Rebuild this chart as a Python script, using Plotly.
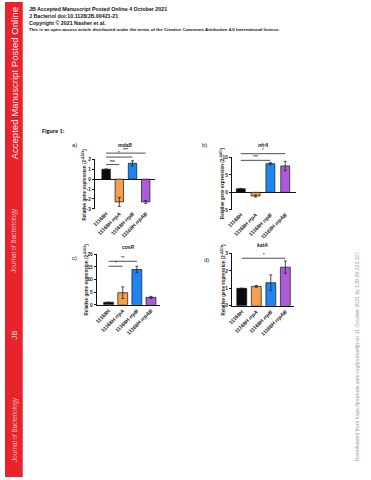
import plotly.graph_objects as go

W, H = 371, 480

strains = ["11168H", "11168H <i>rrpA</i>", "11168H <i>rrpB</i>", "11168H <i>rrpAB</i>"]
bar_colors = ["#0a0a0a", "#F5A04A", "#1E86EE", "#AC5BDB"]

genes = ["mdaB", "nfrA", "cosR", "katA"]
panel_letters = ["a)", "b)", "c)", "d)"]

a_vals = [1.0, -2.3, 1.6, -2.3]
a_err = [0.03, 0.45, 0.25, 0.15]
b_vals = [1.0, -1.05, 8.2, 7.55]
b_err = [0.05, 0.3, 0.3, 1.3]
c_vals = [1.0, 4.8, 14.0, 2.95]
c_err = [0.05, 2.3, 1.3, 0.4]
d_vals = [1.0, 1.11, 1.32, 2.21]
d_err = [0.01, 0.05, 0.45, 0.35]

a_ticks = [-3, -2, -1, 0, 1, 2]
b_ticks = [-5, 0, 5, 10]
c_ticks = [0, 5, 10, 15, 20]
d_ticks = [0, 1, 2, 3]

# significance brackets: (from bar, to bar, height in data units, label)
a_sig = [(0, 3, 2.63, "***"), (0, 2, 2.23, "*"), (0, 1, 1.47, "ns")]
b_sig = [(0, 3, 11.05, "*"), (0, 2, 9.15, "***")]
c_sig = [(0, 2, 17.25, "**"), (0, 1, 15.3, "*")]
d_sig = [(0, 3, 2.72, "*")]

panels = [
    dict(vals=a_vals, err=a_err, ticks=a_ticks, sig=a_sig, xpx=(91, 152), ypx=(159, 209),
         xr=(-0.86, 3.7), yr=(-3, 2), bw=0.64, title_y=145, letter=(70, 145), ytitle_x=80.5, zero=True),
    dict(vals=b_vals, err=b_err, ticks=b_ticks, sig=b_sig, xpx=(230, 295), ypx=(157, 210),
         xr=(-0.6, 3.73), yr=(-5, 10), bw=0.6, title_y=145, letter=(202, 144), ytitle_x=219.5, zero=True),
    dict(vals=c_vals, err=c_err, ticks=c_ticks, sig=c_sig, xpx=(93, 157), ypx=(255, 306),
         xr=(-0.84, 3.63), yr=(0, 20), bw=0.7, title_y=248, letter=(70, 259), ytitle_x=82, zero=False),
    dict(vals=d_vals, err=d_err, ticks=d_ticks, sig=d_sig, xpx=(230, 293), ypx=(254, 307),
         xr=(-0.68, 3.6), yr=(0, 3), bw=0.68, title_y=246, letter=(204, 261), ytitle_x=221, zero=False),
]

def px_x(p):
    return p / W

def px_y(p):
    return 1 - p / H

fig = go.Figure()
annotations = []
shapes = []

def note(x, y, text, size, color="#1a1a1a", angle=0, xanchor="center", yanchor="middle",
         family="Liberation Sans, Arial, sans-serif"):
    annotations.append(dict(x=x, y=y, xref="paper", yref="paper", text=text, showarrow=False,
                            textangle=angle, xanchor=xanchor, yanchor=yanchor,
                            borderpad=0, font=dict(size=size, color=color, family=family)))

# red sidebar
shapes.append(dict(type="rect", xref="paper", yref="paper", x0=0, x1=px_x(18), y0=0, y1=1,
                   fillcolor="#E8232C", line=dict(width=0), layer="below"))

TXT = "#1a1a1a"
FONT = "Liberation Sans, Arial, sans-serif"

for i, p in enumerate(panels):
    s = "" if i == 0 else str(i + 1)
    xd = [px_x(p["xpx"][0]), px_x(p["xpx"][1])]
    yd = [px_y(p["ypx"][1]), px_y(p["ypx"][0])]
    fig.add_trace(go.Bar(
        x=[0, 1, 2, 3], y=p["vals"], width=p["bw"],
        marker=dict(color=bar_colors, line=dict(color="#111", width=0.7)),
        error_y=dict(type="data", array=p["err"], color="#222", thickness=0.8, width=1.5),
        xaxis="x" + s, yaxis="y" + s, showlegend=False, hoverinfo="skip"))
    fig.layout["xaxis" + s] = dict(
        domain=xd, range=list(p["xr"]), anchor="y" + s,
        tickvals=[0, 1, 2, 3], ticktext=["<b>" + t + "</b>" for t in strains],
        tickangle=-45, tickfont=dict(size=5.2, color=TXT, family=FONT),
        showline=not p["zero"], linecolor="#111", linewidth=1,
        showgrid=False, zeroline=False, ticks="", fixedrange=True)
    fig.layout["yaxis" + s] = dict(
        domain=yd, range=list(p["yr"]), anchor="x" + s,
        tickvals=p["ticks"], ticktext=["<b>%d</b>" % t for t in p["ticks"]],
        tickfont=dict(size=4.8, color=TXT, family=FONT),
        showline=True, linecolor="#111", linewidth=1,
        ticks="outside", ticklen=2, tickwidth=0.8, tickcolor="#111",
        showgrid=False, zeroline=p["zero"], zerolinecolor="#111", zerolinewidth=1,
        fixedrange=True)

    def dx(v, p=p, xd=xd):
        return xd[0] + (v - p["xr"][0]) / (p["xr"][1] - p["xr"][0]) * (xd[1] - xd[0])

    def dy(v, p=p, yd=yd):
        return yd[0] + (v - p["yr"][0]) / (p["yr"][1] - p["yr"][0]) * (yd[1] - yd[0])

    for (b0, b1, h, lab) in p["sig"]:
        shapes.append(dict(type="line", xref="paper", yref="paper",
                           x0=dx(b0), x1=dx(b1), y0=dy(h), y1=dy(h),
                           line=dict(color="#222", width=0.8)))
        note((dx(b0) + dx(b1)) / 2, dy(h) + 0.6 / H, "<b>" + lab + "</b>", 4.2, yanchor="bottom")
    note((xd[0] + xd[1]) / 2, px_y(p["title_y"]), "<b><i>" + genes[i] + "</i></b>", 5)
    note(px_x(p["letter"][0]), px_y(p["letter"][1]), panel_letters[i], 6)
    note(px_x(p["ytitle_x"]), (yd[0] + yd[1]) / 2,
         "<b>Relative gene expression (2<sup>-ΔΔCt</sup>)</b>", 4.6, angle=-90)

# header lines
header = [
    ("<b>JB Accepted Manuscript Posted Online 4 October 2021</b>", 7, 5.3),
    ("<b>J Bacteriol doi:10.1128/JB.00421-21</b>", 14, 5.3),
    ("<b>Copyright © 2021 Nasher et al.</b>", 21, 5.3),
    ("<b>This is an open-access article distributed under the terms of the Creative Commons Attribution 4.0 International license.</b>", 28, 4.4),
]
for t, yp, fs in header:
    note(px_x(23), px_y(yp), t, fs, color="#111", xanchor="left")

note(px_x(36), px_y(130), "<b>Figure 1:</b>", 6.3, color="#111", xanchor="left",
     family="Carlito, Liberation Sans, sans-serif")

# sidebar texts
side = [
    ("Accepted Manuscript Posted Online", 82, 9.6, "rgba(255,255,255,0.95)"),
    ("Journal of Bacteriology", 241, 6.3, "rgba(255,255,255,0.7)"),
    ("JB", 337, 8, "rgba(255,255,255,0.8)"),
    ("Journal of Bacteriology", 432, 6.3, "rgba(255,255,255,0.7)"),
]
for t, yp, fs, col in side:
    note(px_x(9.5), px_y(yp), t, fs, color=col, angle=-90)

note(px_x(357), px_y(358),
     "Downloaded from https://journals.asm.org/journal/jb on 11 October 2021 by 128.59.222.107.",
     5.2, color="#9a9a9a", angle=-90)

fig.update_layout(width=W, height=H, margin=dict(l=0, r=0, t=0, b=0),
                  paper_bgcolor="white", plot_bgcolor="white",
                  annotations=annotations, shapes=shapes, bargap=0.3,
                  font=dict(family=FONT))

fig.write_html("out.html", config={"displayModeBar": False},
               post_script="document.body.style.margin='0';document.body.style.padding='0';"
                           "document.documentElement.style.overflow='hidden';")
